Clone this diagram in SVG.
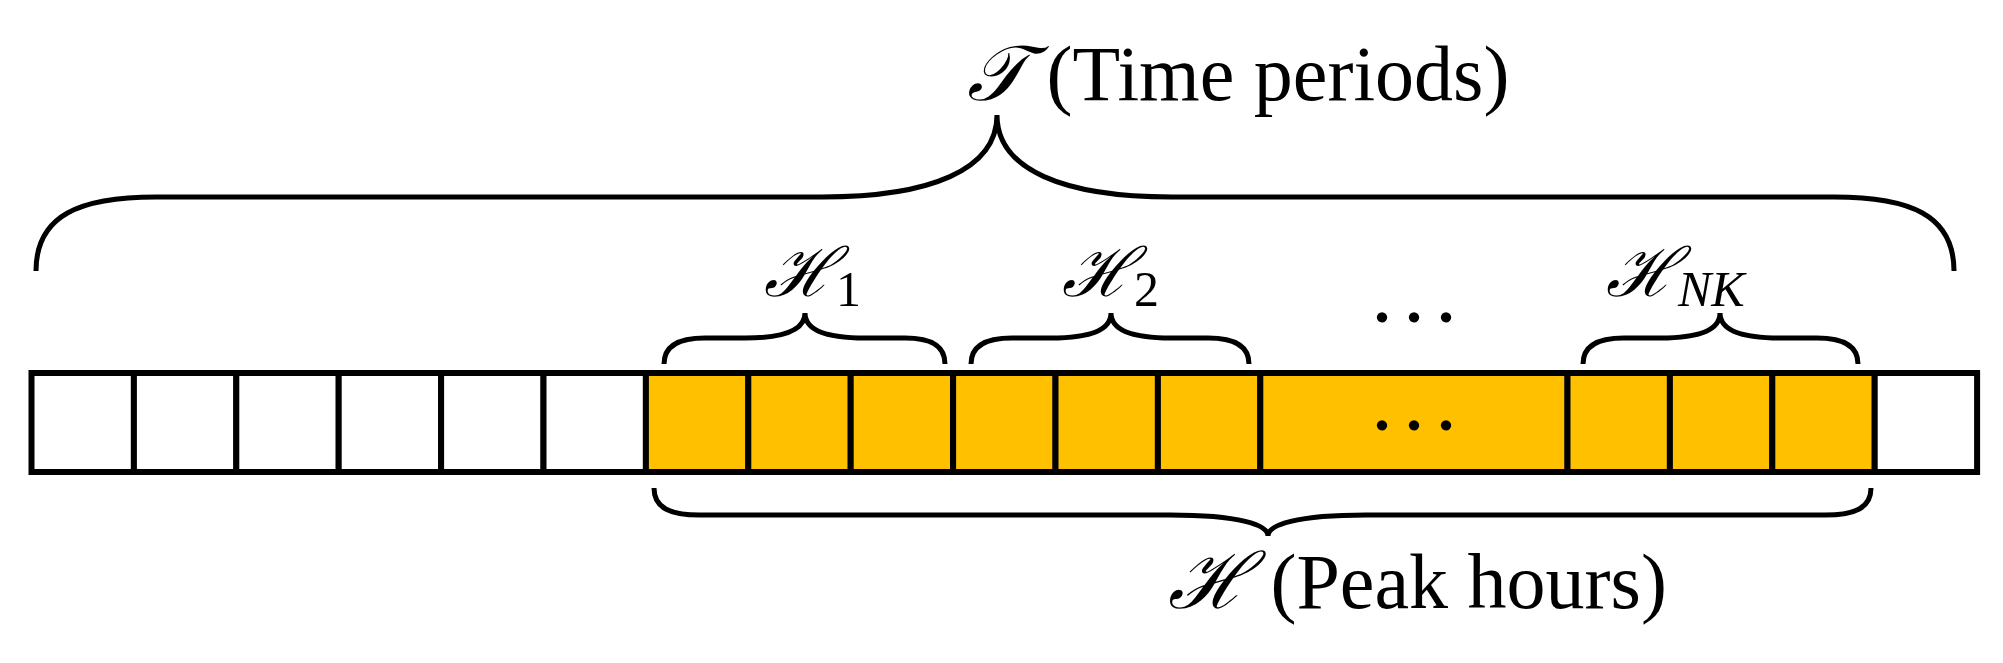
<svg xmlns="http://www.w3.org/2000/svg" width="2003" height="663" viewBox="0 0 2003 663">
<style>
.c{stroke:#000;stroke-width:6}
.w{fill:#fff}.o{fill:#FFC000}
.b{fill:none;stroke:#000;stroke-width:5}
text{font-family:"Liberation Serif","DejaVu Serif",serif;fill:#000}
.m{font-style:italic}
.d{font-size:64px;letter-spacing:16px;text-anchor:middle;font-weight:bold}
</style>
<rect width="2003" height="663" fill="#fff"/>
<g id="cells">
<rect class="c w" x="31.5" y="373" width="102.4" height="99"/>
<rect class="c w" x="133.9" y="373" width="102.4" height="99"/>
<rect class="c w" x="236.3" y="373" width="102.4" height="99"/>
<rect class="c w" x="338.7" y="373" width="102.4" height="99"/>
<rect class="c w" x="441.1" y="373" width="102.4" height="99"/>
<rect class="c w" x="543.5" y="373" width="102.4" height="99"/>
<rect class="c o" x="645.9" y="373" width="102.4" height="99"/>
<rect class="c o" x="748.3" y="373" width="102.4" height="99"/>
<rect class="c o" x="850.7" y="373" width="102.4" height="99"/>
<rect class="c o" x="953.1" y="373" width="102.4" height="99"/>
<rect class="c o" x="1055.5" y="373" width="102.4" height="99"/>
<rect class="c o" x="1157.9" y="373" width="102.4" height="99"/>
<rect class="c o" x="1260.3" y="373" width="307.2" height="99"/>
<rect class="c o" x="1567.5" y="373" width="102.4" height="99"/>
<rect class="c o" x="1669.9" y="373" width="102.4" height="99"/>
<rect class="c o" x="1772.3" y="373" width="102.4" height="99"/>
<rect class="c w" x="1874.7" y="373" width="102.4" height="99"/>
<text class="d" x="1422" y="430">...</text>
</g>
<g id="braces">
<path class="b" d="M36,271 C36,215 80,197 156,197 L822,197 C930,197 997,170 997,115 C997,170 1064,197 1172,197 L1834,197 C1910,197 1954,215 1954,271"/>
<path class="b" d="M664,364 C664,345 680,338 705,338 L745,338 C785,338 805,330 805,313 C805,330 825,338 865,338 L905,338 C930,338 945,345 945,364"/>
<path class="b" d="M971,364 C971,345 987,338 1012,338 L1051,338 C1091,338 1111,330 1111,313 C1111,330 1131,338 1171,338 L1208,338 C1233,338 1249,345 1249,364"/>
<path class="b" d="M1583,364 C1583,345 1599,338 1624,338 L1660,338 C1700,338 1720,330 1720,313 C1720,330 1740,338 1780,338 L1817,338 C1842,338 1858,345 1858,364"/>
<path class="b" d="M654,488 C654,508 670,515 700,515 L1170,515 C1240,515 1268,525 1268,536 C1268,525 1296,515 1366,515 L1825,515 C1855,515 1871,508 1871,488"/>
</g>
<g id="labels">
<text x="967" y="100" font-size="78"><tspan class="m">𝒯</tspan> (Time periods)</text>
<text x="764" y="296" font-size="68"><tspan class="m">ℋ</tspan><tspan font-size="50" dy="10">1</tspan></text>
<text x="1062" y="296" font-size="68"><tspan class="m">ℋ</tspan><tspan font-size="50" dy="10">2</tspan></text>
<text class="d" x="1422" y="322">...</text>
<text x="1606" y="296" font-size="68"><tspan class="m">ℋ</tspan><tspan font-size="50" dy="10" class="m">NK</tspan></text>
<text x="1168" y="608" font-size="78"><tspan class="m">ℋ</tspan> (Peak hours)</text>
</g>
</svg>
